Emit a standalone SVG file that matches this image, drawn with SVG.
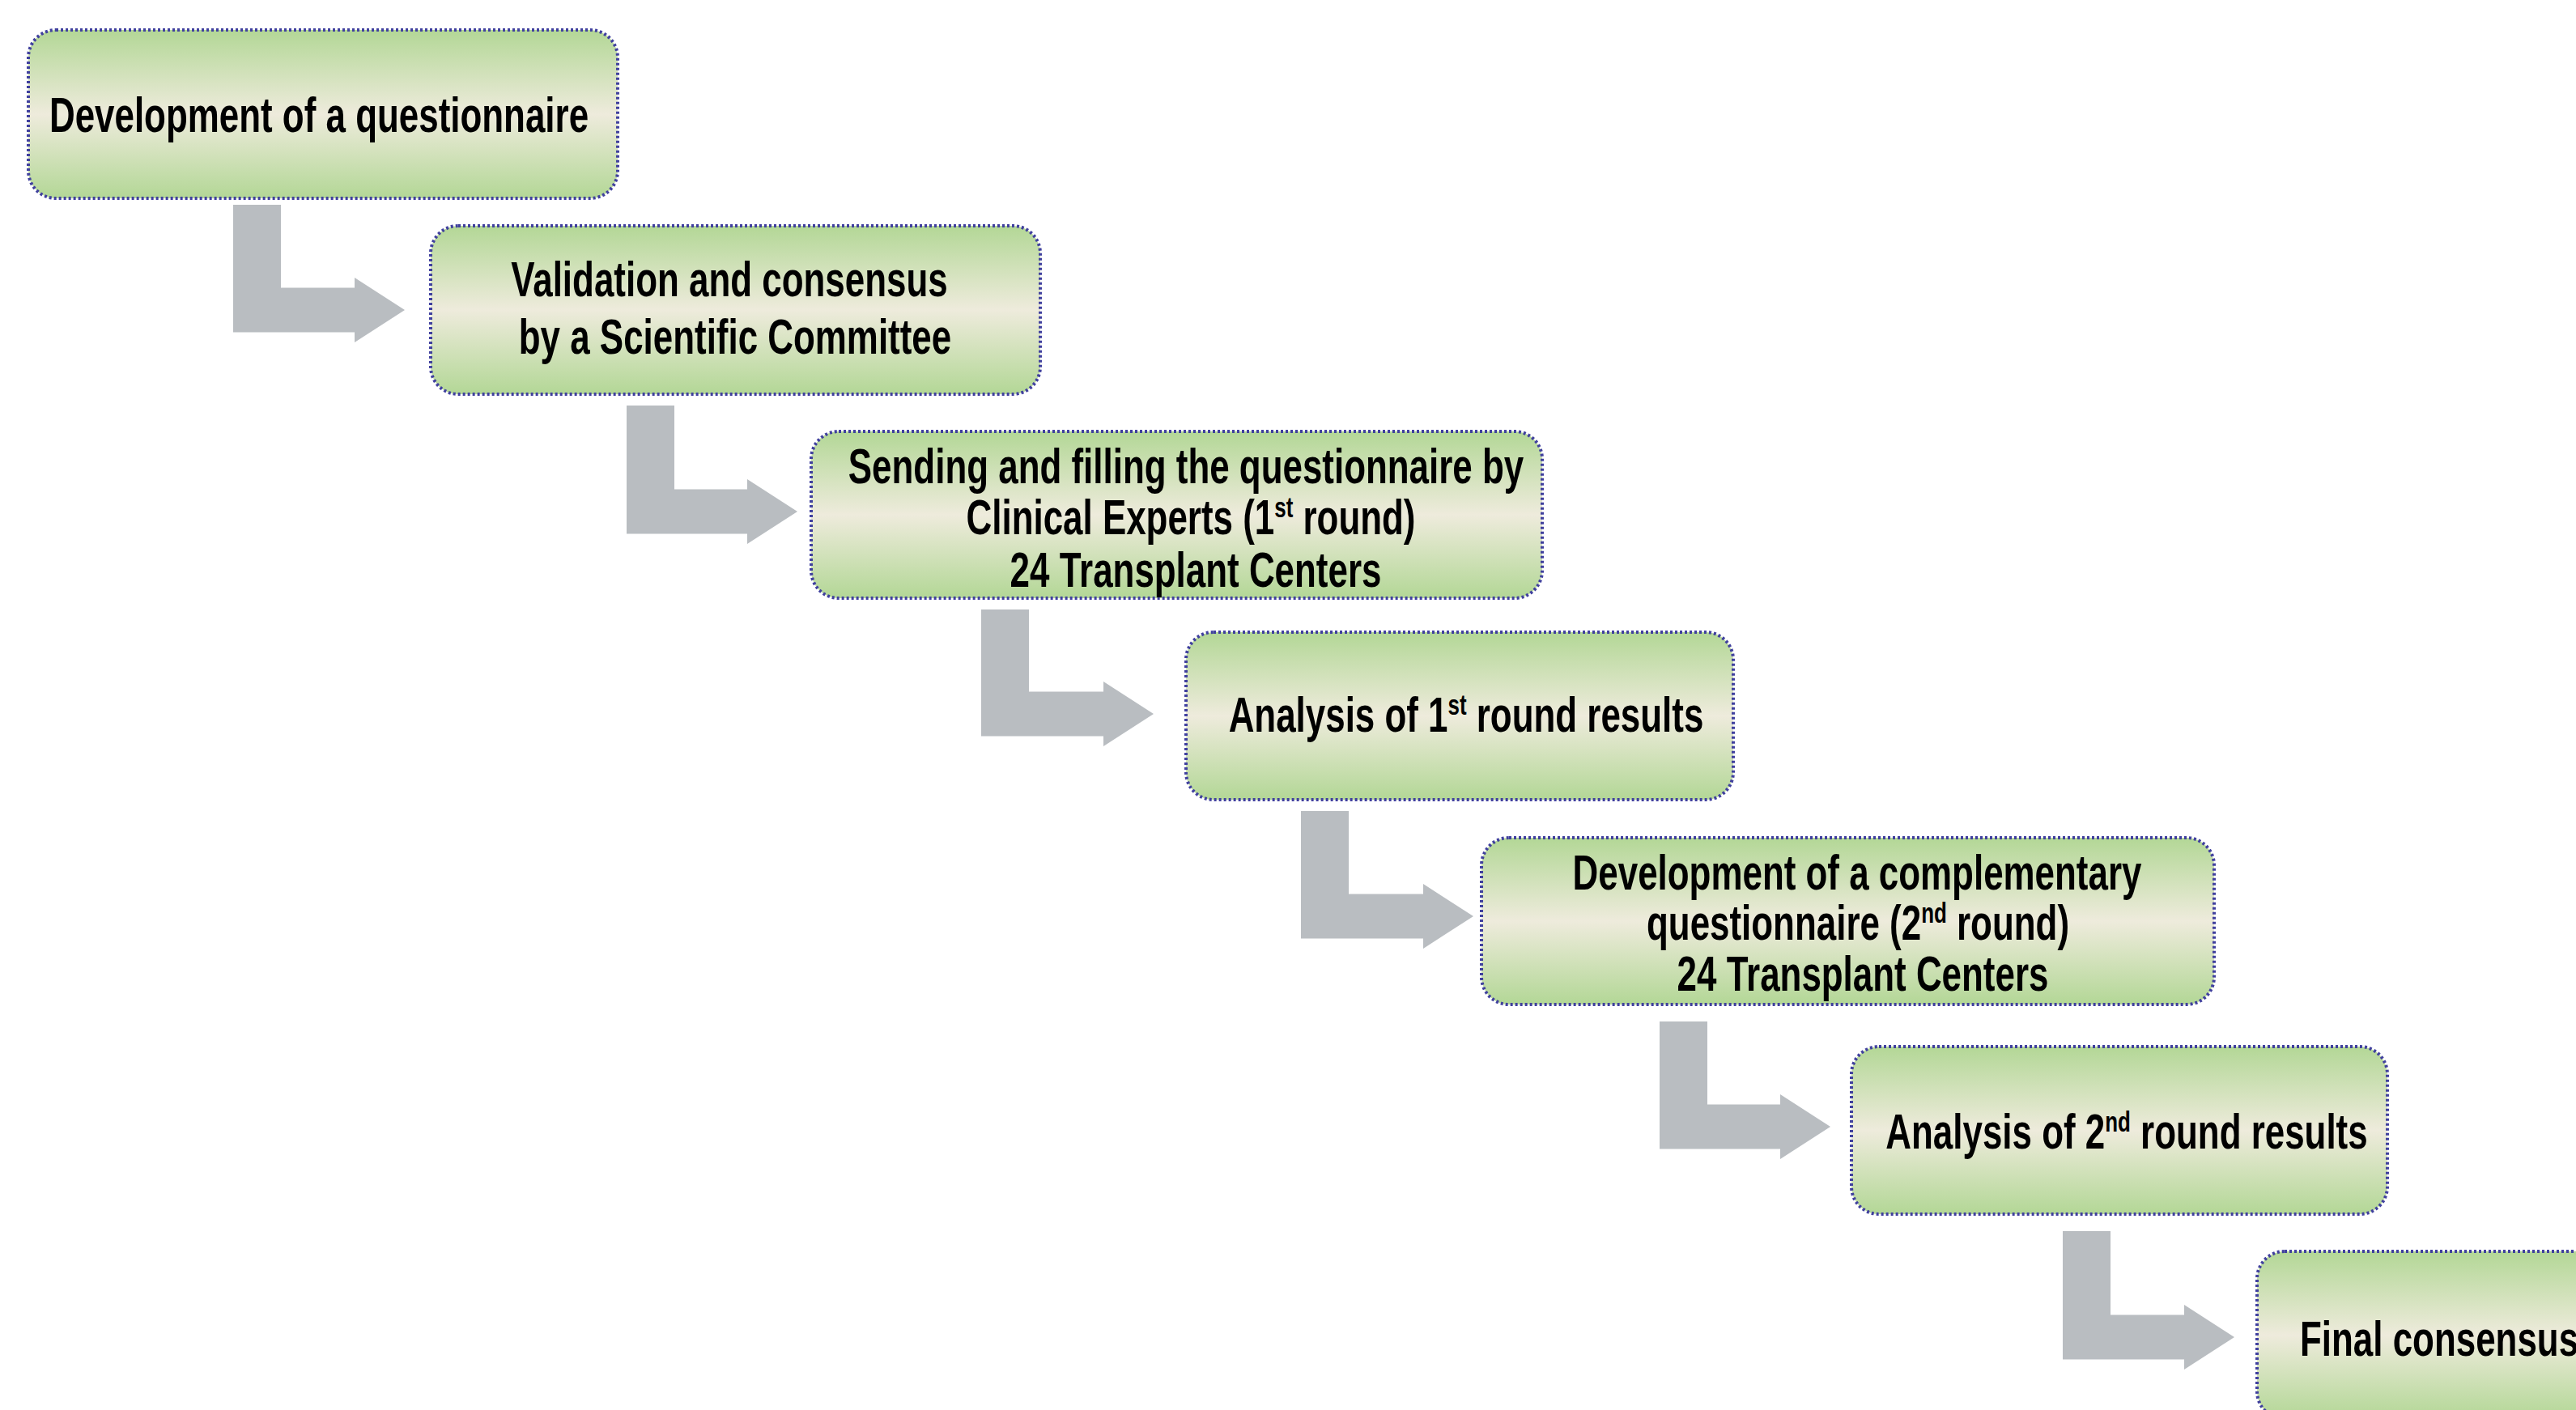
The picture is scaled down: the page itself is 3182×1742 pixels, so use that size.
<svg xmlns="http://www.w3.org/2000/svg" width="3182" height="1742" viewBox="0 0 3182 1742">
<defs>
<linearGradient id="g" x1="0" y1="0" x2="0" y2="1">
<stop offset="0" stop-color="#b3d796"/>
<stop offset="0.5" stop-color="#eeebdc"/>
<stop offset="1" stop-color="#b3d796"/>
</linearGradient>
<style>
.box{fill:url(#g);stroke:#40409e;stroke-width:4;stroke-dasharray:3 3}
.t{font-family:"Liberation Sans",Arial,sans-serif;font-weight:bold;font-size:61px;fill:#000;text-anchor:middle}
.sup{font-size:36px}
.arr{fill:#b9bdc1}
</style>
</defs>
<rect width="3182" height="1742" fill="#fff"/>
<g id="connectors">
<path class="arr" d="M288,253 H347 V355.5 H438 V343 L500,383 L438,423 V410.5 H288 Z"/>
<path class="arr" d="M774,501 H833 V604.5 H923 V592 L985,632 L923,672 V659.5 H774 Z"/>
<path class="arr" d="M1212,753 H1271 V854.5 H1363 V842 L1425,882 L1363,922 V909.5 H1212 Z"/>
<path class="arr" d="M1607,1002 H1666 V1104.5 H1758 V1092 L1820,1132 L1758,1172 V1159.5 H1607 Z"/>
<path class="arr" d="M2050,1262 H2109 V1364.5 H2199 V1352 L2261,1392 L2199,1432 V1419.5 H2050 Z"/>
<path class="arr" d="M2548,1521 H2607 V1624.5 H2698 V1612 L2760,1652 L2698,1692 V1679.5 H2548 Z"/>
</g>
<g id="n1">
<rect class="box" x="35" y="37" width="728" height="208" rx="34"/>
<text class="t" transform="translate(394,163) scale(0.72,1)">Development of a questionnaire</text>
</g>
<g id="n2">
<rect class="box" x="532" y="279" width="753" height="208" rx="34"/>
<text class="t" transform="translate(901,366) scale(0.72,1)">Validation and consensus</text>
<text class="t" transform="translate(908,437) scale(0.72,1)">by a Scientific Committee</text>
</g>
<g id="n3">
<rect class="box" x="1002" y="533" width="903" height="206" rx="34"/>
<text class="t" transform="translate(1465,597) scale(0.72,1)">Sending and filling the questionnaire by</text>
<text class="t" transform="translate(1471,660) scale(0.72,1)">Clinical Experts (1<tspan class="sup" dy="-21">st</tspan><tspan dy="21"> round)</tspan></text>
<text class="t" transform="translate(1477,725) scale(0.72,1)">24 Transplant Centers</text>
</g>
<g id="n4">
<rect class="box" x="1465" y="781" width="676" height="207" rx="34"/>
<text class="t" transform="translate(1811,904) scale(0.72,1)">Analysis of 1<tspan class="sup" dy="-21">st</tspan><tspan dy="21"> round results</tspan></text>
</g>
<g id="n5">
<rect class="box" x="1830" y="1035" width="905" height="206" rx="34"/>
<text class="t" transform="translate(2294,1099) scale(0.72,1)">Development of a complementary</text>
<text class="t" transform="translate(2295,1161) scale(0.72,1)">questionnaire (2<tspan class="sup" dy="-21">nd</tspan><tspan dy="21"> round)</tspan></text>
<text class="t" transform="translate(2301,1224) scale(0.72,1)">24 Transplant Centers</text>
</g>
<g id="n6">
<rect class="box" x="2287" y="1293" width="662" height="207" rx="34"/>
<text class="t" transform="translate(2627,1419) scale(0.72,1)">Analysis of 2<tspan class="sup" dy="-21">nd</tspan><tspan dy="21"> round results</tspan></text>
</g>
<g id="n7">
<rect class="box" x="2788" y="1546" width="700" height="207" rx="34"/>
<text class="t" transform="translate(2841,1675) scale(0.72,1)" style="text-anchor:start">Final consensus</text>
</g>
</svg>
